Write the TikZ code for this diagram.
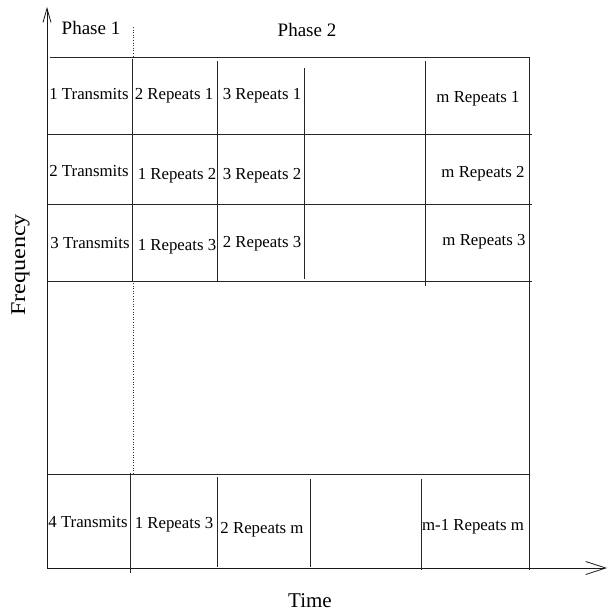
\documentclass[tikz,border=0pt]{standalone}
\usepackage{fontspec}
\setmainfont{Liberation Serif}
\usetikzlibrary{arrows.meta}
\tikzset{
  grid/.style={draw=black!85, line width=0.8pt},
  axisline/.style={draw=black!90, line width=0.8pt},
  ytipstyle/.style={-{Straight Barb[length=14pt,width=8pt,line width=0.8pt]}},
  xtipstyle/.style={-{Straight Barb[length=20pt,width=13pt,line width=0.8pt]}},
  sep/.style={draw=black!80, line width=0.6pt, dotted},
  cell/.style={anchor=base, inner sep=0pt, font=\fontsize{16.8}{18}\selectfont},
  phase/.style={anchor=base, inner sep=0pt, font=\fontsize{19}{21}\selectfont},
  axislabel/.style={anchor=base, inner sep=0pt, font=\fontsize{21}{23}\selectfont},
}
\begin{document}
\begin{tikzpicture}[x=1pt, y=-1pt]
  \useasboundingbox (0,0) rectangle (608,612);

  % axes
  \coordinate (o) at (47,568);
  \coordinate (ytip) at (47,7);
  \coordinate (xtip) at (607,568);
  \draw[axisline, ytipstyle] (o) -- (ytip);
  \draw[axisline, xtipstyle] (o) -- (xtip);

  % horizontal slot boundaries
  \draw[grid] (50,57) -- (529,57);
  \draw[grid] (48,134) -- (532,134);
  \draw[grid] (48,204) -- (532,204);
  \draw[grid] (47,281) -- (532,281);
  \draw[grid] (48,474) -- (530,474);
  \draw[grid] (529,57) -- (529,570);

  % vertical slot boundaries, upper block
  \draw[grid] (132,59) -- (132,281);
  \draw[grid] (217,61) -- (217,281);
  \draw[grid] (304,68) -- (304,279);
  \draw[grid] (425,61) -- (425,286);

  % vertical slot boundaries, lower block
  \draw[grid] (130,473) -- (130,573);
  \draw[grid] (217,477) -- (217,567);
  \draw[grid] (310,479) -- (310,567);
  \draw[grid] (421,479) -- (421,570);

  % phase separator
  \draw[sep] (133,27) -- (133,57);
  \draw[sep] (133,283) -- (133,473);

  % labels
  \node[phase] (ph1) at (91,35) {Phase 1};
  \node[phase] (ph2) at (307,37) {Phase 2};
  \node[axislabel] (time) at (310,607) {Time};
  \node[axislabel, rotate=90, anchor=base] (freq) at (25,265) {\scalebox{1.15}[1]{Frequency}};

  % first row
  \node[cell] (t1) at (89,100) {1 Transmits};
  \node[cell] (r21) at (174,100) {2 Repeats 1};
  \node[cell] (r31) at (262,100) {3 Repeats 1};
  \node[cell] (rm1) at (478,103) {m Repeats 1};

  % second row
  \node[cell] (t2) at (89,177) {2 Transmits};
  \node[cell] (r12) at (177,180) {1 Repeats 2};
  \node[cell] (r32) at (262,180) {3 Repeats 2};
  \node[cell] (rm2) at (483,178) {m Repeats 2};

  % third row
  \node[cell] (t3) at (90,248) {3 Transmits};
  \node[cell] (r13) at (177,250) {1 Repeats 3};
  \node[cell] (r23) at (262,247) {2 Repeats 3};
  \node[cell] (rm3) at (484,245) {m Repeats 3};

  % last row
  \node[cell] (t4) at (88,527) {4 Transmits};
  \node[cell] (r13b) at (174,528) {1 Repeats 3};
  \node[cell] (r2m) at (262,533) {2 Repeats m};
  \node[cell] (rm1m) at (473,530) {m-1 Repeats m};
\end{tikzpicture}
\end{document}
